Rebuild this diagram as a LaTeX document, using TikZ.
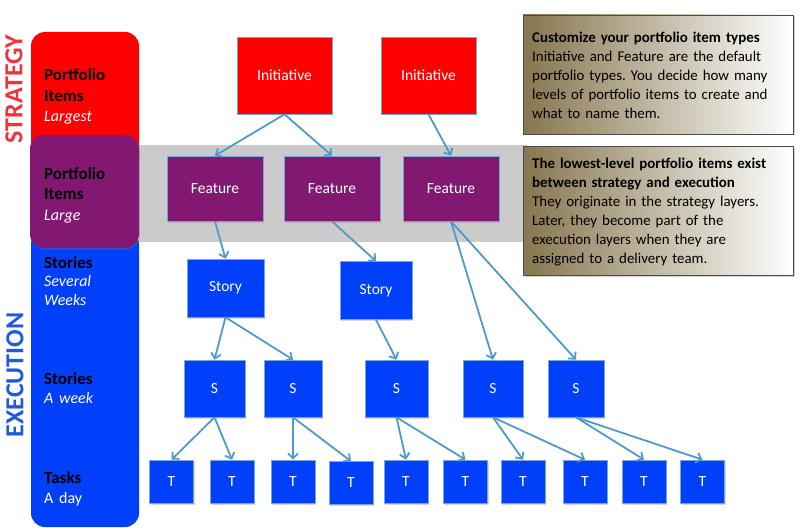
\documentclass[tikz,border=0pt]{standalone}
\usepackage{fontspec}
\setmainfont{Carlito}
\frenchspacing
\usetikzlibrary{arrows.meta,shadows}
\definecolor{pired}{RGB}{255,0,0}
\definecolor{pipurple}{RGB}{130,24,114}
\definecolor{piblue}{RGB}{0,64,250}
\definecolor{band}{RGB}{203,203,203}
\definecolor{arrowc}{RGB}{79,154,200}
\definecolor{edgec}{RGB}{120,165,215}
\definecolor{stratred}{RGB}{240,50,60}
\definecolor{execblue}{RGB}{30,90,220}
\definecolor{khaki}{RGB}{135,118,78}
\tikzset{
  bx/.style={draw=edgec, line width=0.6pt, inner sep=0pt, text=white,
    font=\fontsize{15.5}{18}\selectfont,
    drop shadow={opacity=0.3, shadow xshift=1pt, shadow yshift=-1.5pt}},
  initbox/.style={bx, fill=pired, minimum width=95pt, minimum height=77pt},
  featbox/.style={bx, fill=pipurple, minimum width=96pt, minimum height=65pt},
  storybox/.style={bx, fill=piblue, minimum width=75pt, minimum height=58pt},
  sbox/.style={bx, fill=piblue, minimum width=60pt, minimum height=57pt},
  tbox/.style={bx, fill=piblue, minimum width=44pt, minimum height=43pt},
  conn/.style={draw=arrowc, line width=1.8pt, -{Straight Barb[length=5pt,width=10pt]}},
  col/.style={rounded corners=14pt},
  lbl/.style={anchor=base west, inner sep=0pt, align=left, text width=95pt,
    font=\fontsize{17}{20.5}\selectfont},
  note/.style={anchor=base west, inner sep=0pt, align=left, text width=262pt,
    font=\fontsize{14.9}{19}\selectfont},
  notebox/.style={draw=black!70, line width=0.8pt, left color=khaki, right color=white,
    drop shadow={opacity=0.35, shadow xshift=1.5pt, shadow yshift=-1.5pt}}
}
\begin{document}
\begin{tikzpicture}[x=1pt,y=-1pt]
\useasboundingbox[fill=white] (0,0) rectangle (800,532);
% gray band
\fill[band] (139,145) rectangle (527,242);
% left column
\fill[pired, col] (31,32) rectangle (139,170);
\fill[piblue, col] (31,230) rectangle (139,527);
\fill[pipurple, col, drop shadow={opacity=0.3, shadow xshift=1pt, shadow yshift=-1.5pt}] (30,135) rectangle (139,248);
% column labels
\node[lbl] (l1) at (44,81) {\textbf{Portfolio}\\\textbf{Items}\\{\fontsize{16}{19}\selectfont\color{white}\itshape Largest}};
\node[lbl] (l2) at (44,179) {\textbf{Portfolio}\\\textbf{Items}\\{\fontsize{16}{19}\selectfont\color{white}\itshape Large}};
\node[lbl, font=\fontsize{17}{18.5}\selectfont] (l3) at (44,268) {\textbf{Stories}\\{\fontsize{16}{18.5}\selectfont\color{white}\itshape Several}\\{\fontsize{16}{18.5}\selectfont\color{white}\itshape Weeks}};
\node[lbl, font=\fontsize{17}{19.5}\selectfont] (l4) at (44,384) {\textbf{Stories}\\{\fontsize{16}{19.5}\selectfont\color{white}\itshape A week}};
\node[lbl, font=\fontsize{17}{20}\selectfont] (l5) at (44,483) {\textbf{Tasks}\\{\fontsize{16}{20}\selectfont\color{white}A day}};
% rotated titles
\node[rotate=90, inner sep=0pt, text=stratred, font=\fontsize{26}{26}\selectfont\bfseries] (strat) at (14,89) {STRATEGY};
\node[rotate=90, inner sep=0pt, text=execblue, font=\fontsize{26}{26}\selectfont\bfseries] (exec) at (15,375) {EXECUTION};
% boxes
\node[initbox] (i1) at (284.5,75.5) {Initiative};
\node[initbox] (i2) at (428.5,75.5) {Initiative};
\node[featbox] (f1) at (215,188.5) {Feature};
\node[featbox] (f2) at (332,188.5) {Feature};
\node[featbox] (f3) at (451,188.5) {Feature};
\node[storybox, minimum width=77pt] (st1) at (225.5,288) {Story};
\node[storybox, minimum width=72pt] (st2) at (376,290.5) {Story};
\node[sbox, minimum width=61pt] (s1) at (214.5,388.5) {S};
\node[sbox, minimum width=58pt] (s2) at (293,388.5) {S};
\node[sbox, minimum width=63pt] (s3) at (396.5,388.5) {S};
\node[sbox] (s4) at (493,388.5) {S};
\node[sbox, minimum width=56pt] (s5) at (576,388.5) {S};
\node[tbox] (t1) at (171.5,481.5) {T};
\node[tbox] (t2) at (232,481.5) {T};
\node[tbox] (t3) at (293,481.5) {T};
\node[tbox] (t4) at (351,483) {T};
\node[tbox] (t5) at (406,481.5) {T};
\node[tbox] (t6) at (465.5,481.5) {T};
\node[tbox] (t7) at (523,481.5) {T};
\node[tbox] (t8) at (585,481.5) {T};
\node[tbox] (t9) at (644,481.5) {T};
\node[tbox] (t10) at (702.5,481.5) {T};
% connectors
\draw[conn] (i1.south) -- (f1.north);
\draw[conn] (i1.south) -- (f2.north);
\draw[conn] (i2.south) -- (f3.north);
\draw[conn] (f1.south) -- (st1.north);
\draw[conn] (f2.south) -- (st2.north);
\draw[conn] (f3.south) -- (s4.north);
\draw[conn] (f3.south) -- (s5.north);
\draw[conn] (st1.south) -- (s1.north);
\draw[conn] (st1.south) -- (s2.north);
\draw[conn] (st2.south) -- (s3.north);
\draw[conn] (s1.south) -- (t1.north);
\draw[conn] (s1.south) -- (t2.north);
\draw[conn] (s2.south) -- (t3.north);
\draw[conn] (s2.south) -- (t4.north);
\draw[conn] (s3.south) -- (t5.north);
\draw[conn] (s3.south) -- (t6.north);
\draw[conn] (s4.south) -- (t7.north);
\draw[conn] (s4.south) -- (t8.north);
\draw[conn] (s5.south) -- (t9.north);
\draw[conn] (s5.south) -- (t10.north);
% note boxes
\path[notebox] (523,15) rectangle (793,134);
\node[note] (n1) at (532,43) {\textbf{Customize your portfolio item types}\\Initiative and Feature are the default\\portfolio types. You decide how many\\levels of portfolio items to create and\\what to name them.};
\path[notebox] (523,146) rectangle (793,275);
\node[note] (n2) at (532,168) {\textbf{The lowest-level portfolio items exist}\\\textbf{between strategy and execution}\\They originate in the strategy layers.\\Later, they become part of the\\execution layers when they are\\assigned to a delivery team.};
\end{tikzpicture}
\end{document}
